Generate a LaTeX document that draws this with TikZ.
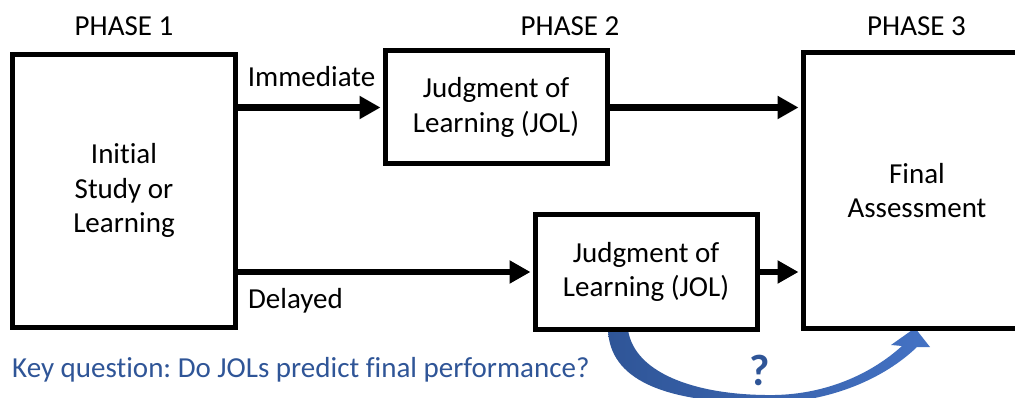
\documentclass[tikz,border=0pt]{standalone}
\usepackage{fontspec}
\setmainfont{Carlito}[Ligatures=NoCommon]
\frenchspacing
\usetikzlibrary{arrows.meta,backgrounds}
\definecolor{keyblue}{RGB}{47,85,151}
\definecolor{arrowblue}{RGB}{68,114,196}
\definecolor{arrowdark}{RGB}{47,85,151}
\begin{document}
\begin{tikzpicture}[x=1pt,y=-1pt,
  box/.style={draw=black, line width=5pt, rectangle, align=center, inner sep=0pt,
    font=\fontsize{29}{34.5}\selectfont},
  lbl/.style={font=\fontsize{29}{34}\selectfont, anchor=base, inner sep=0pt},
  arr/.style={line width=6.5pt, -{Triangle[length=21pt,width=22pt]}, shorten >=2pt}]
\useasboundingbox (0,0) rectangle (1015,398);
\clip (0,0) rectangle (1015,398);

% phase labels
\node[lbl] (p1) at (124,36) {PHASE 1};
\node[lbl] (p2) at (570,36) {PHASE 2};
\node[lbl] (p3) at (916.5,36) {PHASE 3};

% boxes
\node[box, minimum width=223pt, minimum height=272.5pt] (b1) at (124,190.75) {Initial\\Study or\\Learning};
\node[box, minimum width=222pt, minimum height=113pt] (b2) at (496,107.5) {Judgment of\\Learning (JOL)};
\node[box, minimum width=222pt, minimum height=114pt] (b4) at (646,272) {Judgment of\\Learning (JOL)};
\node[box, minimum width=228pt, minimum height=275pt] (b3) at (917,190.5) {Final\\Assessment};

% arrows
\draw[arr] (b1.east |- b2.west) -- (b2.west);
\draw[arr] (b1.east |- b4.west) -- (b4.west);
\draw[arr] (b2.east) -- (b3.west |- b2.east);
\draw[arr] (b4.east) -- (b3.west |- b4.east);

\node[lbl] (imm) at (311.5,87) {Immediate};
\node[lbl] (del) at (295.5,308) {Delayed};

% curved question arrow
\begin{scope}[on background layer]
\shade[left color=arrowdark, right color=arrowblue]
  (608,330) .. controls (610,378) and (660,403) .. (765,403)
  .. controls (830,403) and (885,378) .. (917,347)
  -- (930,347) -- (915,328) -- (891,345) -- (902,346)
  .. controls (870,375) and (825,394) .. (775,395)
  .. controls (700,396) and (635,375) .. (628,330) -- cycle;
\end{scope}

\node[anchor=base, inner sep=0pt, text=keyblue, font=\fontsize{44}{48}\selectfont\bfseries] (q) at (760,385) {?};

\node[anchor=base west, inner sep=0pt, text=keyblue, font=\fontsize{29}{34}\selectfont] (key) at (12,377) {Key question: Do JOLs predict final performance?};
\end{tikzpicture}
\end{document}
